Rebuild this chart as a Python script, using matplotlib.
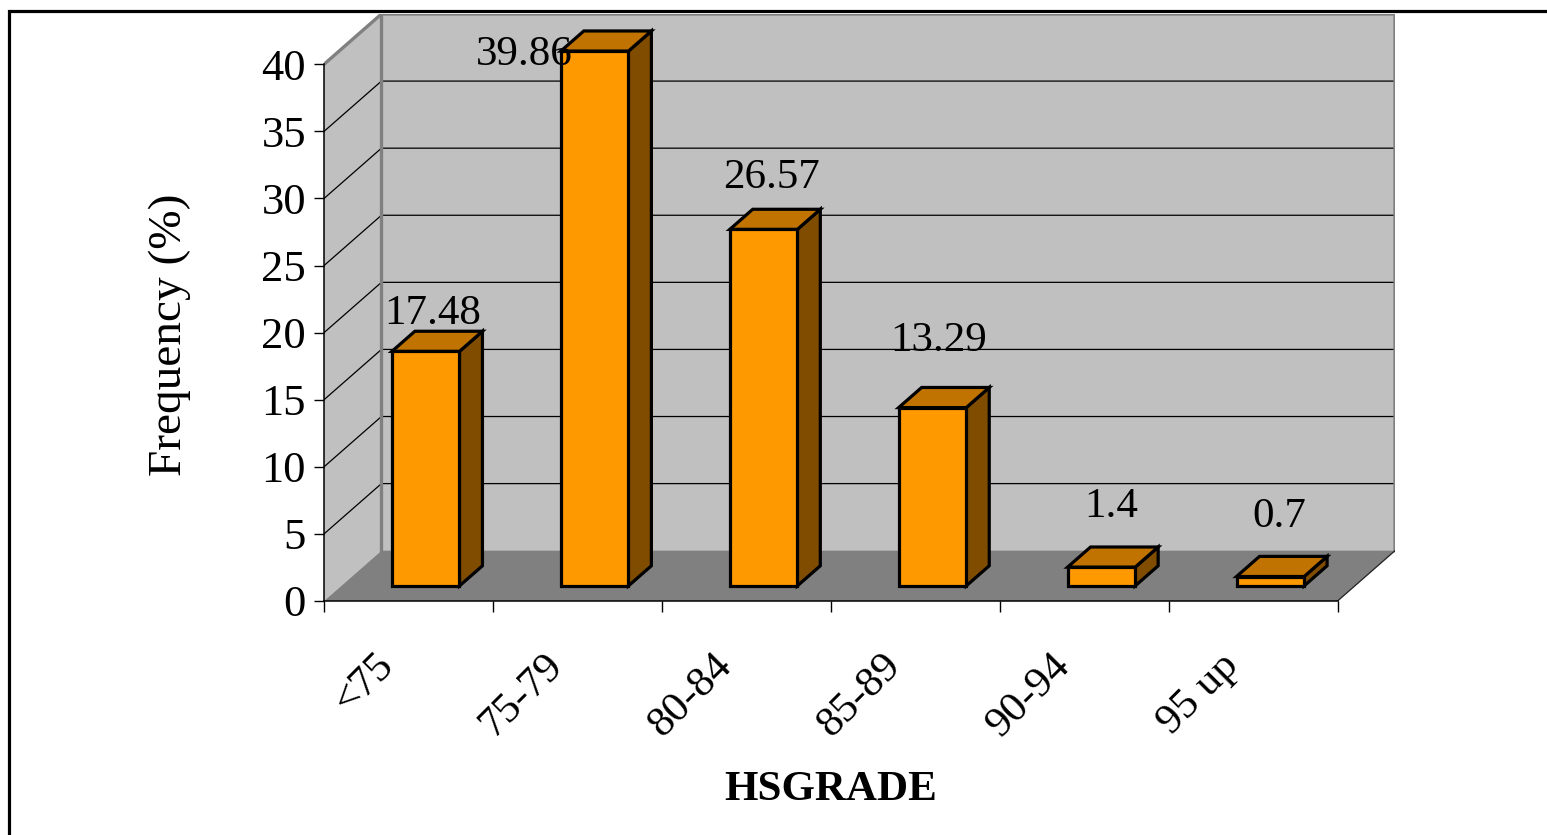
import matplotlib
matplotlib.use("Agg")
import matplotlib.pyplot as plt
from matplotlib.patches import Polygon, Rectangle
from matplotlib.lines import Line2D

categories = ["<75", "75-79", "80-84", "85-89", "90-94", "95 up"]
frequency = [17.48, 39.86, 26.57, 13.29, 1.4, 0.7]
y_ticks = [0, 5, 10, 15, 20, 25, 30, 35, 40]

# label nudges in pixels (dx, dy above the back edge of the bar top)
label_dx = [7, -70, 8, 6, 10, 9]
label_dy = [7, -34, 21, 36, 30, 29]

plt.rcParams["font.family"] = ["Liberation Serif", "DejaVu Serif"]

W, H = 1547, 835
fig = plt.figure(figsize=(W / 100, H / 100), dpi=100)

# oblique depth of the chart box in data units
DX, DY = 0.34, 3.75
ymax = y_ticks[-1]
n = len(categories)

ax = fig.add_axes([324 / W, (H - 601) / H, (1395 - 324) / W, (601 - 14) / H])
ax.set_xlim(0, n + DX)
ax.set_ylim(0, ymax + DY)
ax.set_facecolor("none")

wall = "#C0C0C0"
floor = "#808080"
edge_grey = "#808080"

# left wall and back wall
ax.add_patch(Polygon([(0, 0), (DX, DY), (DX, ymax + DY), (0, ymax)],
                     closed=True, facecolor=wall, edgecolor="none", zorder=1))
ax.add_patch(Rectangle((DX, DY), n, ymax, facecolor=wall, edgecolor="none", zorder=1))

# gridlines on both walls
for t in y_ticks[1:-1]:
    ax.plot([0, DX, n + DX], [t, t + DY, t + DY], color="black", lw=0.9, zorder=2)

# wall outlines
ax.plot([0, DX, n + DX, n + DX], [ymax, ymax + DY, ymax + DY, DY],
        color=edge_grey, lw=2.4, zorder=3, solid_joinstyle="miter")
ax.plot([DX, DX], [DY, ymax + DY], color=edge_grey, lw=2.4, zorder=3)

# floor
ax.add_patch(Polygon([(0, 0), (n, 0), (n + DX, DY), (DX, DY)],
                     closed=True, facecolor=floor, edgecolor="none", zorder=4))
ax.plot([n, n + DX], [0, DY], color="#202020", lw=0.9, zorder=4)

# 3D bars
w = 0.4
f0, f1 = 0.3, 0.7
ddx, ddy = (f1 - f0) * DX, (f1 - f0) * DY
for i, v in enumerate(frequency):
    x0 = i + 0.5 - w / 2 + f0 * DX
    x1 = x0 + w
    y0 = f0 * DY
    y1 = v + f0 * DY
    kw = dict(closed=True, edgecolor="black", lw=2.3, joinstyle="miter", zorder=5)
    ax.add_patch(Polygon([(x1, y0), (x1 + ddx, y0 + ddy), (x1 + ddx, y1 + ddy), (x1, y1)],
                         facecolor="#7F4C00", **kw))
    ax.add_patch(Polygon([(x0, y1), (x1, y1), (x1 + ddx, y1 + ddy), (x0 + ddx, y1 + ddy)],
                         facecolor="#C07300", **kw))
    ax.add_patch(Polygon([(x0, y0), (x1, y0), (x1, y1), (x0, y1)],
                         facecolor="#FF9900", **kw))
    ax.annotate(f"{v:g}", xy=(i + 0.5 + f0 * DX, v + f1 * DY),
                xytext=(label_dx[i], label_dy[i]), textcoords="offset pixels",
                ha="center", va="baseline", fontsize=31, zorder=6,
                annotation_clip=False)

# axes: front vertical axis and category axis
for s in ["top", "right"]:
    ax.spines[s].set_visible(False)
ax.spines["left"].set_bounds(0, ymax)
ax.spines["bottom"].set_bounds(0, n)
for s in ["left", "bottom"]:
    ax.spines[s].set_linewidth(1.1)
    ax.spines[s].set_zorder(6)

ax.set_yticks(y_ticks)
ax.set_yticklabels([str(t) for t in y_ticks])
ax.tick_params(axis="y", direction="out", length=7, width=1.0, pad=6, labelsize=32)
ax.set_xticks(range(n + 1))
ax.set_xticklabels([])
ax.tick_params(axis="x", direction="out", length=8, width=1.0)

for i, c in enumerate(categories):
    ax.annotate(c, xy=(i + 0.5, 0), xytext=(-13, -66), textcoords="offset pixels",
                rotation=45, rotation_mode="anchor", ha="right", va="baseline",
                fontsize=31, annotation_clip=False)

fig.text(170 / W, 1 - 335 / H, "Frequency (%)", rotation=90,
         ha="center", va="center", fontsize=34)
fig.text(831 / W, 1 - 800 / H, "HSGRADE", ha="center", va="baseline",
         fontsize=31, fontweight="bold")

# chart frame (left and top edges)
fig.add_artist(Line2D([9 / W, 9 / W, 1.01], [-0.01, 1 - 11 / H, 1 - 11 / H],
                      transform=fig.transFigure, color="black", lw=2.3,
                      solid_joinstyle="miter"))

fig.savefig("out.png", dpi=100, facecolor="white")
